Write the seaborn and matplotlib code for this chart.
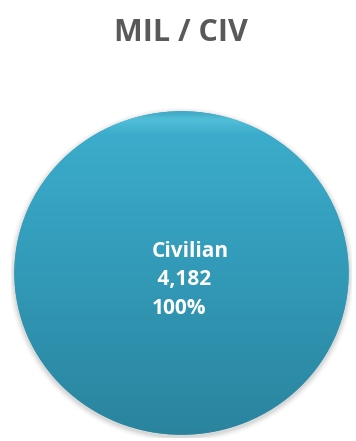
import numpy as np
import matplotlib
matplotlib.use("Agg")
import matplotlib.pyplot as plt
from matplotlib.colors import LinearSegmentedColormap
from matplotlib.patches import Ellipse
import seaborn as sns

# Workforce split by status
categories = ["Civilian"]
counts = [4182]
title = "MIL / CIV"

sns.set_theme(style="white")
plt.rcParams["font.family"] = ["Open Sans", "DejaVu Sans"]

W, H = 356, 441
fig = plt.figure(figsize=(W / 100, H / 100), dpi=100)
fig.patch.set_facecolor("white")

# pie area in pixels (left, top, right, bottom)
px_l, px_t, px_r, px_b = 11, 108, 352, 438
ax = fig.add_axes([px_l / W, 1 - px_b / H, (px_r - px_l) / W, (px_b - px_t) / H])

# soft drop shadow behind the pie
for i, a in enumerate(np.linspace(0.05, 0.01, 6)):
    s = 1.0 + 0.006 * (i + 1)
    ax.add_patch(Ellipse((0.0, -0.012), 2 * s, 2 * s, facecolor="#303030",
                         edgecolor="none", alpha=a, zorder=0))

base = sns.color_palette(["#3399B8"])
wedges, _ = ax.pie(counts, colors=base, startangle=90, counterclock=False,
                   radius=1.0, wedgeprops=dict(linewidth=0))
ax.set_aspect("auto")
ax.axis("off")

# vertical gradient fill clipped to the slice
cmap = LinearSegmentedColormap.from_list(
    "fill", [(0.0, "#2A849E"), (0.55, "#339CBA"), (0.93, "#3BACCB"),
             (0.975, "#52BFD9"), (1.0, "#3FA8C4")])
grad = np.linspace(0, 1, 256).reshape(-1, 1)
for w in wedges:
    im = ax.imshow(grad, cmap=cmap, origin="lower", extent=[-1, 1, -1, 1],
                   aspect="auto", zorder=w.get_zorder() + 0.1)
    im.set_clip_path(w)

ax.set_xlim(-1.02, 1.02)
ax.set_ylim(-1.02, 1.02)

total = sum(counts)
for cat, n in zip(categories, counts):
    label = f"{cat}\n {n:,}\n{100 * n / total:.0f}%"
    fig.text(152 / W, 1 - 280 / H, label, ha="left", va="center",
             multialignment="left", color="white", fontsize=15,
             fontweight="bold", linespacing=1.45)

fig.text(181 / W, 1 - 33 / H, title, ha="center", va="center",
         color="#595959", fontsize=22, fontweight="bold")

fig.savefig("out.png", dpi=100, facecolor="white")
